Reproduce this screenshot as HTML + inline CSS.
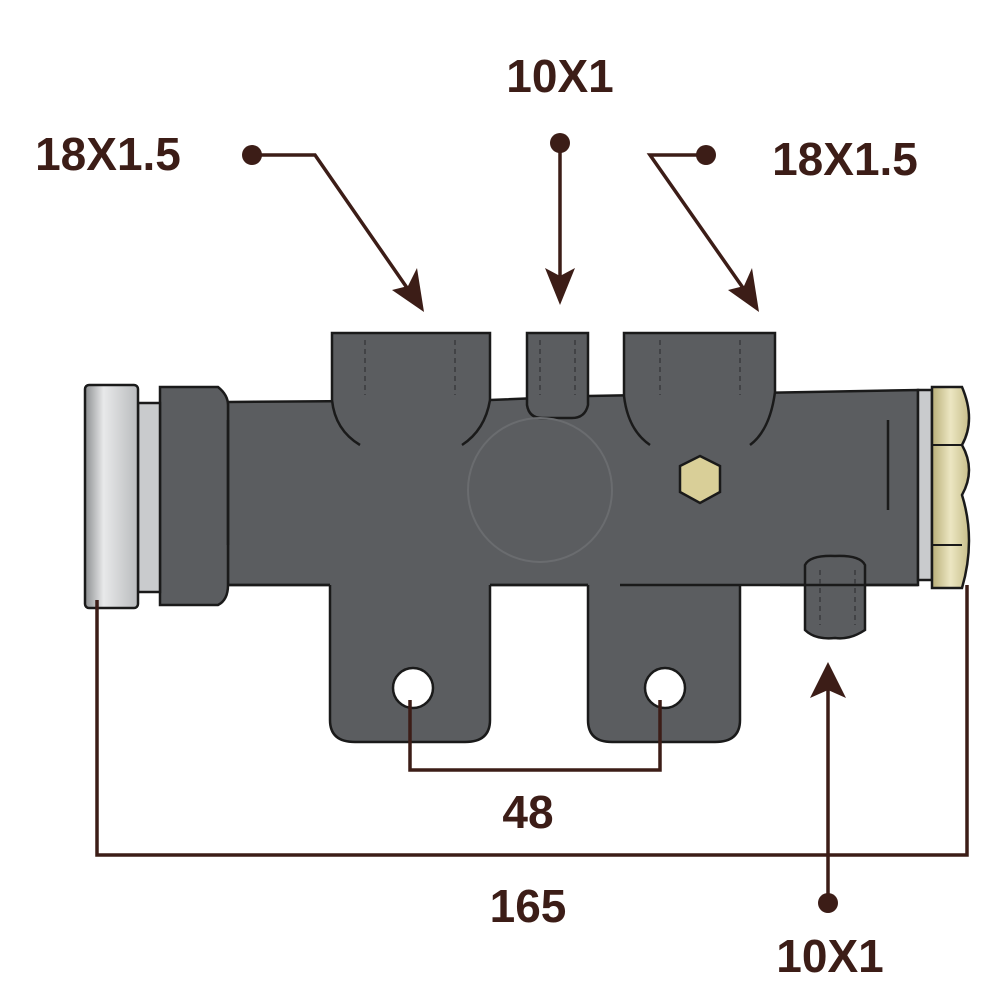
<!DOCTYPE html>
<html><head><meta charset="utf-8"><style>
html,body{margin:0;padding:0;background:#fff;}
svg{display:block;}
text{font-family:"Liberation Sans Narrow","Liberation Sans",sans-serif;font-weight:bold;fill:#3c1d17;}
</style></head><body>
<svg width="1000" height="1000" viewBox="0 0 1000 1000" xmlns="http://www.w3.org/2000/svg">
<defs>
<linearGradient id="cap" x1="0" x2="1"><stop offset="0" stop-color="#8c8e90"/><stop offset="0.35" stop-color="#e8e9ea"/><stop offset="1" stop-color="#b9bbbd"/></linearGradient>
<linearGradient id="nut" x1="0" x2="1"><stop offset="0" stop-color="#b8ae78"/><stop offset="0.5" stop-color="#ece6c2"/><stop offset="1" stop-color="#c8bf8a"/></linearGradient>
</defs>
<g fill="#5b5d60" stroke="#1a1a1a" stroke-width="2.5">
<path d="M228,402 L490,400 L588,396 L918,390 V585 H228 Z"/>
<path d="M160,387 H218 Q228,395 228,405 V585 Q228,600 218,605 H160 Z"/>
</g>
<g fill="#5b5d60" stroke="none">
<path d="M332,333 H490 V400 Q485,430 462,445 L360,445 Q335,430 332,400 Z"/>
<path d="M624,333 H775 V392 Q770,430 750,445 L650,445 Q628,430 624,396 Z"/>
<path d="M527,333 H588 V405 Q585,418 572,418 H542 Q529,418 527,405 Z"/>
<path d="M330,583 H490 V720 Q490,742 465,742 H355 Q330,742 330,720 Z"/>
<path d="M588,583 H740 V720 Q740,742 715,742 H612 Q588,742 588,720 Z"/>
<path d="M805,583 H865 V630 Q850,640 835,638 Q815,640 805,630 Z"/>
</g>
<g stroke="#1a1a1a" stroke-width="2.5" fill="none">
<path d="M332,400 V333 H490 V400"/>
<path d="M624,396 V333 H775 V392"/>
<path d="M527,398 V333 H588 V396"/>
<path d="M527,398 V405 Q529,418 542,418 H572 Q585,418 588,405 V396"/>
<path d="M332,400 Q335,430 360,445"/><path d="M490,400 Q485,430 462,445"/>
<path d="M624,396 Q628,430 650,445"/><path d="M775,392 Q770,430 750,445"/>
<path d="M228,585 H330 M490,585 H588 M620,585 H740 M780,585 H918"/>
<path d="M330,585 V720 Q330,742 355,742 H465 Q490,742 490,720 V585"/>
<path d="M588,585 V720 Q588,742 612,742 H715 Q740,742 740,720 V585"/>
<path d="M805,565 Q810,555 835,556 Q860,555 865,565 V630 Q850,640 835,638 Q815,640 805,630 Z"/>
<path d="M228,420 V545 M888,420 V510"/>
</g>
<g stroke="#3a3b3d" stroke-width="1.5" stroke-dasharray="5,4" fill="none">
<path d="M365,340 V395 M455,340 V395 M660,340 V395 M740,340 V395 M540,340 V395 M575,340 V395 M820,570 V625 M855,570 V625"/>
</g>
<circle cx="540" cy="490" r="72" fill="none" stroke="#6a6c6f" stroke-width="2"/>
<circle cx="413" cy="688" r="20" fill="#fff" stroke="#1a1a1a" stroke-width="2.5"/>
<circle cx="665" cy="688" r="20" fill="#fff" stroke="#1a1a1a" stroke-width="2.5"/>
<polygon points="700,456 720,466 720,492 700,503 680,492 680,466" fill="#d9cf98" stroke="#1a1a1a" stroke-width="2.5"/>
<rect x="138" y="403" width="22" height="189" fill="#c9cbcd" stroke="#1a1a1a" stroke-width="2.5"/>
<rect x="85" y="385" width="53" height="223" rx="4" fill="url(#cap)" stroke="#1a1a1a" stroke-width="2.5"/>
<rect x="918" y="390" width="14" height="190" fill="#c9cbcd" stroke="#1a1a1a" stroke-width="2.5"/>
<path d="M932,387 H962 Q976,420 962,445 Q976,470 962,495 Q976,540 962,588 H932 Z" fill="url(#nut)" stroke="#1a1a1a" stroke-width="2.5"/>
<path d="M932,445 H962 M932,545 H962" stroke="#1a1a1a" stroke-width="2"/>
<g stroke="#3c1d17" stroke-width="3.5" fill="none">
<path d="M410,700 V770 H660 V700"/>
<path d="M97,600 V855 H967 V585"/>
<path d="M828,903 V690"/>
<path d="M252,155 H315 L412,295"/>
<path d="M560,143 V290"/>
<path d="M706,155 H650 L748,295"/>
</g>
<g fill="#3c1d17">
<circle cx="252" cy="155" r="10"/><circle cx="560" cy="143" r="10"/><circle cx="706" cy="155" r="10"/><circle cx="828" cy="903" r="10"/>
<polygon points="828,662 846,698 828,690 810,698"/>
<polygon points="560,305 545,268 560,276 575,268"/>
<polygon points="424,312 392,290 408,286 417,268"/>
<polygon points="759,312 728,290 744,286 752,268"/>
</g>
<text x="108" y="170" font-size="46" text-anchor="middle">18X1.5</text>
<text x="560" y="92" font-size="46" text-anchor="middle">10X1</text>
<text x="845" y="175" font-size="46" text-anchor="middle">18X1.5</text>
<text x="528" y="828" font-size="46" text-anchor="middle">48</text>
<text x="528" y="922" font-size="46" text-anchor="middle">165</text>
<text x="830" y="972" font-size="46" text-anchor="middle">10X1</text>
</svg>
</body></html>
